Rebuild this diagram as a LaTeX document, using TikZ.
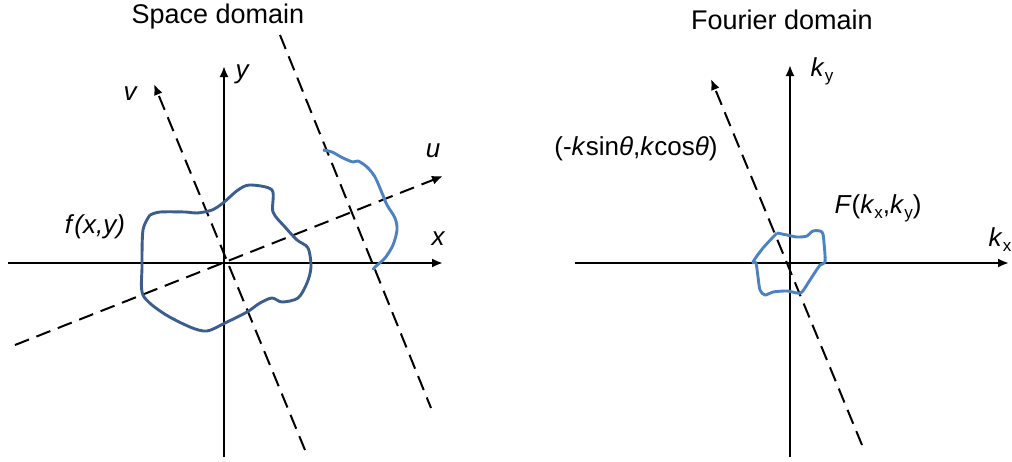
\documentclass[tikz,border=0pt]{standalone}
\usepackage{fontspec}
\setmainfont{Liberation Sans}
\usetikzlibrary{arrows.meta}
\definecolor{darkblob}{HTML}{3C5E8E}
\definecolor{lightblob}{HTML}{4D82C2}
\newcommand{\subsz}[1]{\raisebox{-5pt}{\upshape\fontsize{17}{18}\selectfont #1}}
\tikzset{
  axis/.style={line width=2.1pt,-{Latex[length=11pt,width=9pt]}},
  dashaxis/.style={line width=2pt,dash pattern=on 15pt off 8pt},
  dashaxisarrow/.style={dashaxis,-{Latex[length=11pt,width=9pt]}},
  blobA/.style={line width=2.9pt,darkblob,line join=round},
  blobB/.style={line width=2.9pt,lightblob,line join=round},
  lbl/.style={font=\fontsize{26}{30}\selectfont\itshape,inner sep=0pt},
  txt/.style={font=\fontsize{26}{30}\selectfont,inner sep=0pt},
  ttl/.style={font=\fontsize{27}{31}\selectfont,inner sep=0pt}
}
\begin{document}
\begin{tikzpicture}[x=1pt,y=-1pt]
\useasboundingbox (0,0) rectangle (1012,461);
% ---------- Space domain ----------
\coordinate (xs) at (8,263);   \coordinate (xe) at (443,263);
\coordinate (ys) at (224,457); \coordinate (ye) at (224,66);
\coordinate (us) at (15,345);  \coordinate (ue) at (443,176);
\coordinate (vs) at (305,450); \coordinate (ve) at (154,84);
\coordinate (ps) at (280,35);  \coordinate (pe) at (431,408);
\draw[axis] (xs) -- (xe);
\draw[axis] (ys) -- (ye);
\draw[dashaxisarrow] (us) -- (ue);
\draw[dashaxisarrow] (vs) -- (ve);
\draw[dashaxis] (ps) -- (pe);
\draw[blobA] plot[smooth,tension=0.5] coordinates {
 (150,215) (160,212) (185,212) (197,213) (212,210) (223,203) (238,190) (250,185)
 (272,190) (273,212) (285,227) (297,240) (308,248) (311,267) (307,283) (298,298)
 (282,302) (272,298) (260,303) (247,312) (225,323) (207,331) (190,327) (163,313)
 (143,295) (142,267) (143,230) (150,215)};
\draw[blobB] plot[smooth,tension=0.5] coordinates {
 (323,150) (332,152) (343,158) (353,162) (358,161) (367,167) (375,177) (382,193)
 (387,205) (395,218) (397,230) (393,245) (385,258) (375,267) (373,270)};
\node[ttl] (t1) at (218,17) {Space domain};
\node[lbl] (ly) at (242,74) {y};
\node[lbl] (lv) at (130,94) {v};
\node[lbl] (lu) at (433,151) {u};
\node[lbl] (lx) at (438,239) {x};
\node[lbl] (lf) at (95,227) {f\/(x,y)};
% ---------- Fourier domain ----------
\coordinate (kxs) at (575,263); \coordinate (kxe) at (1009,263);
\coordinate (kys) at (790,457); \coordinate (kye) at (790,65);
\coordinate (ds) at (862,445);  \coordinate (de) at (711,79);
\draw[axis] (kxs) -- (kxe);
\draw[axis] (kys) -- (kye);
\draw[dashaxisarrow] (ds) -- (de);
\draw[blobB] plot[smooth,tension=0.5] coordinates {
 (777,233) (787,235) (797,237) (807,236) (813,231) (822,232) (824,243) (825,262)
 (820,265) (810,280) (802,292) (797,293) (787,291) (773,292) (765,295) (760,290)
 (758,277) (756,263) (753,262) (763,248) (777,233)};
\node[ttl] (t2) at (782,20) {Fourier domain};
\node[lbl] (lky) at (822,71) {k\/\subsz{y}};
\node[lbl] (lkx) at (1000,240) {k\/\subsz{x}};
\node[txt] (lk) at (636,149) {(-\textit{k}sin\textit{θ},\textit{k}cos\textit{θ})};
\node[txt] (lF) at (878,208) {\textit{F}(\textit{k}\subsz{x},\textit{k}\subsz{y})};
\end{tikzpicture}
\end{document}
